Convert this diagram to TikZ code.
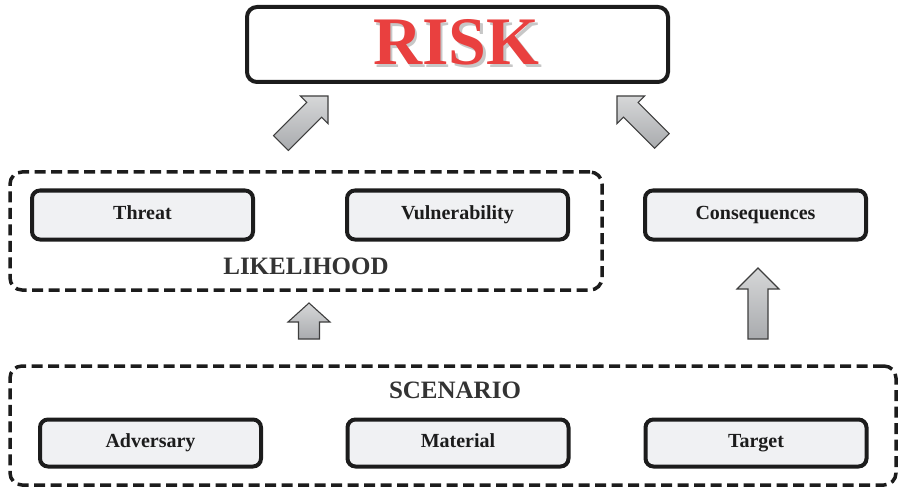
\documentclass[tikz,border=0pt]{standalone}
\usepackage{fontspec}
\setmainfont{Liberation Serif}
\usetikzlibrary{calc}
\begin{document}
\definecolor{ink}{HTML}{1C1C1C}
\definecolor{boxfill}{HTML}{F0F1F3}
\definecolor{riskred}{HTML}{E9403F}
\definecolor{arrowtop}{HTML}{D6D7D8}
\definecolor{arrowbot}{HTML}{A9ABAE}
\begin{tikzpicture}[x=1pt,y=-1pt,
  itembox/.style={draw=ink, line width=4pt, rounded corners=8pt, fill=boxfill,
    minimum width=221pt, minimum height=49pt, inner sep=0pt,
    text height=13.5pt, text depth=4.5pt,
    font=\fontsize{20}{24}\selectfont\bfseries, text=ink},
  groupbox/.style={draw=ink, line width=3.5pt, dash pattern=on 11pt off 5.5pt,
    rounded corners=12pt, inner sep=0pt},
  grouplabel/.style={font=\fontsize{25}{30}\selectfont\bfseries, text=ink!90, inner sep=0pt},
  risklabel/.style={font=\fontsize{68}{70}\selectfont\bfseries, inner sep=0pt},
  blockarrowstyle/.style={draw=ink!85, line width=1.1pt, line join=miter,
    top color=arrowtop, bottom color=arrowbot},
  pics/blockarrow/.style n args={4}{code={
    % tip at the origin, pointing up; #1 head length, #2 head half width,
    % #3 shaft half width, #4 total length
    \path[blockarrowstyle] (0,0) -- (#2,#1) -- (#3,#1) -- (#3,#4) -- (-#3,#4)
      -- (-#3,#1) -- (-#2,#1) -- cycle;
  }}]
\useasboundingbox (0,0) rectangle (904,489);

% top box with the shadowed red title
\node[draw=ink, line width=4pt, rounded corners=10pt, fill=white,
      minimum width=421pt, minimum height=75pt] (risk) at (457.5,44.5) {};
\node[risklabel, text=black, opacity=0.22] (riskshadow)
  at ($(risk.center)+(1.5,0.5)$) {RISK};
\node[risklabel, text=riskred] (risktext) at ($(risk.center)+(-1,-2)$) {RISK};

% likelihood group
\node[groupbox, minimum width=592pt, minimum height=118pt] (likelihood) at (306,231) {};
\node[itembox] (threat) at (142.5,215) {Threat};
\node[itembox] (vuln) at (457.5,215) {Vulnerability};
\node[grouplabel] (likelabel) at (306,266) {LIKELIHOOD};

% consequences
\node[itembox] (cons) at (755.5,215) {Consequences};

% scenario group
\node[groupbox, minimum width=886pt, minimum height=119pt] (scenario) at (453,425.5) {};
\node[grouplabel] (scenlabel) at (455,390) {SCENARIO};
\node[itembox, minimum height=47pt] (adversary) at (150.5,443) {Adversary};
\node[itembox, minimum height=47pt] (material) at (458,443) {Material};
\node[itembox, minimum height=47pt] (target) at (756,443) {Target};

% block arrows
\pic[rotate=-45] (upleft) at (328,96) {blockarrow={19.5}{19.5}{10.5}{66.5}};
\pic[rotate=45] (upright) at (617,96) {blockarrow={19.5}{19.5}{10.3}{63.5}};
\pic (toLikelihood) at (309,303) {blockarrow={19}{21}{10.5}{36}};
\pic (toCons) at (758,268) {blockarrow={21}{21}{10}{71}};
\end{tikzpicture}
\end{document}
